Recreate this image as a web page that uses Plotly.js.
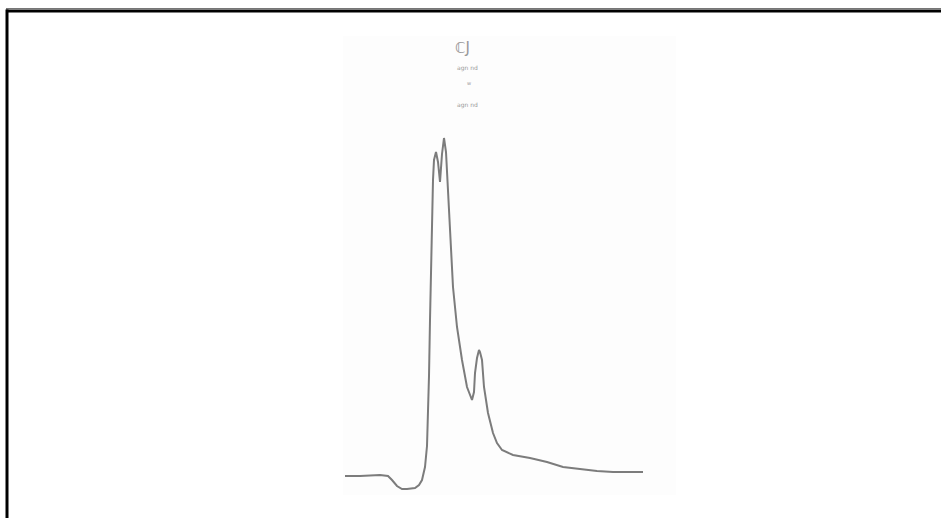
<!DOCTYPE html>
<html>
<head>
<meta charset="utf-8">
<script src="https://cdn.plot.ly/plotly-3.0.1.min.js"></script>
<style>html,body{margin:0;padding:0;background:#fff;}#chart{width:941px;height:518px;}</style>
</head>
<body>
<div id="chart"></div>
<script>
// Retention position (chart-paper units)
var retention = [345, 360, 380, 388, 392, 397, 402, 407, 415, 419, 422, 425, 427, 428, 429, 430, 431, 432, 433, 434, 436, 438, 440, 442, 444, 446, 447, 449, 450, 453, 457, 462, 467, 470, 472, 474, 475, 477, 479, 480, 482, 484, 486, 488, 493, 497, 502, 513, 530, 547, 563, 580, 597, 613, 628, 643];
// Detector response above baseline (chart-paper units)
var response = [0, 0, 1, 0, -4, -10, -13, -13, -12, -9, -4, 9, 30, 56, 100, 156, 210, 256, 296, 316, 324, 314, 294, 322, 338, 324, 306, 266, 239, 189, 149, 116, 89, 80, 76, 84, 103, 118, 126, 124, 116, 89, 74, 63, 43, 33, 26, 21, 18, 14, 9, 7, 5, 4, 4, 4];
// Faint labels at the top of the scan
var labelTexts = ["\u2102J", "agn nd", "w", "agn nd"];
var labelX = [462, 467, 469, 467];
var labelY = [428, 408, 393, 371];
var labelSize = [15, 6, 5, 6];

var trace = {
  x: retention, y: response, mode: 'lines', type: 'scatter',
  line: {color: '#7c7c7c', width: 2, shape: 'linear'},
  hoverinfo: 'skip', showlegend: false
};

var annotations = labelTexts.map(function(t, i){
  return {x: labelX[i], y: labelY[i], xref: 'x', yref: 'y', text: t, showarrow: false,
          font: {family: 'DejaVu Sans', size: labelSize[i], color: '#999999'}};
});

var layout = {
  width: 941, height: 518,
  margin: {l: 0, r: 0, t: 0, b: 0},
  paper_bgcolor: '#ffffff', plot_bgcolor: '#ffffff',
  xaxis: {range: [0, 941], visible: false, fixedrange: true},
  yaxis: {range: [-42, 476], visible: false, fixedrange: true},
  annotations: annotations,
  shapes: [
    {type: 'rect', xref: 'x', yref: 'y', x0: 343, x1: 676, y0: -19, y1: 440,
     fillcolor: '#fdfdfd', line: {width: 0}, layer: 'below'},
    {type: 'line', xref: 'paper', yref: 'paper', x0: 6/941, x1: 1, y0: 1 - 8.5/518, y1: 1 - 8.5/518,
     line: {color: '#777', width: 1}},
    {type: 'line', xref: 'paper', yref: 'paper', x0: 6/941, x1: 1, y0: 1 - 11/518, y1: 1 - 11/518,
     line: {color: '#000', width: 3}},
    {type: 'line', xref: 'paper', yref: 'paper', x0: 7/941, x1: 7/941, y0: 0, y1: 1 - 9.5/518,
     line: {color: '#000', width: 3}}
  ]
};

Plotly.newPlot('chart', [trace], layout, {staticPlot: true, displayModeBar: false});
</script>
</body>
</html>
